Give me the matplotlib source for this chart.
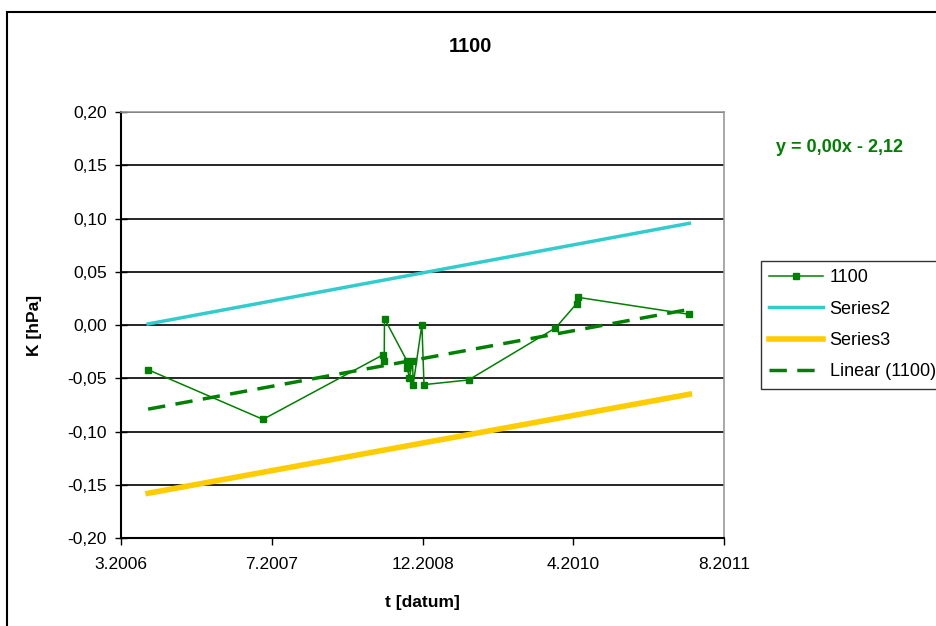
import numpy as np
import matplotlib.pyplot as plt
import matplotlib.dates as mdates
from matplotlib.patches import Rectangle
from matplotlib.ticker import FuncFormatter

plt.rcParams['font.family'] = ['Liberation Sans', 'DejaVu Sans']

# measurements for station 1100
dates = ['2006-06-06', '2007-06-22', '2008-07-24', '2008-07-28', '2008-07-29',
         '2008-10-12', '2008-10-13', '2008-10-19', '2008-10-30', '2008-11-01',
         '2008-11-30', '2008-12-07', '2009-05-04', '2010-02-16', '2010-04-27',
         '2010-05-01', '2011-05-06']
k_1100 = [-0.042, -0.0886, -0.028, -0.0335, 0.006,
          -0.034, -0.040, -0.050, -0.034, -0.056,
          0.0003, -0.056, -0.0516, -0.0028, 0.020,
          0.026, 0.010]

# trend line and upper / lower bands, first and last date
band_dates = ['2006-06-06', '2011-05-06']
trend = [-0.079, 0.0147]
series2 = [0.001, 0.0955]
series3 = [-0.158, -0.065]

equation = 'y = 0,00x - 2,12'

x = mdates.datestr2num(dates)
xb = mdates.datestr2num(band_dates)

fig = plt.figure(figsize=(9.37, 6.26), dpi=100)
ax = fig.add_axes([121/937, 1 - 538/626, 603/937, 426/626])

green = '#008000'
ax.plot(xb, series2, color='#33CCCC', lw=2.5, label='Series2', zorder=3)
ax.plot(xb, series3, color='#FFCC00', lw=4, label='Series3', zorder=3)
ax.plot(x, k_1100, color=green, lw=1.1, marker='s', ms=4.5, label='1100', zorder=5)
ax.plot(xb, trend, color=green, lw=2.5, ls=(0, (5, 3)),
        label='Linear (1100)', zorder=4)

x0 = mdates.datestr2num('2006-03-08')
ax.set_xlim(x0, x0 + 2000)
ax.set_xticks(x0 + np.arange(5) * 500)
ax.xaxis.set_major_formatter(FuncFormatter(
    lambda v, pos: '%d.%d' % (mdates.num2date(v).month, mdates.num2date(v).year)))

ax.set_ylim(-0.2, 0.2)
ax.set_yticks(np.arange(-0.2, 0.201, 0.05))
ax.yaxis.set_major_formatter(FuncFormatter(
    lambda v, pos: ('%.2f' % v).replace('-0.00', '0.00').replace('.', ',')))
ax.yaxis.grid(True, color='black', lw=1.2)
ax.set_axisbelow(True)

for s in ['top', 'right']:
    ax.spines[s].set_color('#999999')
    ax.spines[s].set_linewidth(1.2)
for s in ['left', 'bottom']:
    ax.spines[s].set_linewidth(1.5)

ax.tick_params(axis='y', direction='inout', length=8, width=1, labelsize=12.5, pad=6)
ax.tick_params(axis='x', direction='out', length=5, width=1, labelsize=12.5, pad=9)

ax.set_xlabel('t [datum]', fontsize=12.5, fontweight='bold', labelpad=16)
ax.set_ylabel('K [hPa]', fontsize=12.5, fontweight='bold', labelpad=18)
fig.text(470/937, 1 - 47/626, '1100', fontsize=14.5, fontweight='bold',
         ha='center', va='center')
fig.text(840/937, 1 - 147/626, equation, fontsize=13, fontweight='bold',
         color=green, ha='center', va='center')

handles, labels = ax.get_legend_handles_labels()
order = [2, 0, 1, 3]
leg = fig.legend([handles[i] for i in order], [labels[i] for i in order],
                 loc='upper left', bbox_to_anchor=(761/937, 1 - 261/626),
                 fontsize=13, frameon=True, fancybox=False, handlelength=3.0,
                 labelspacing=0.8, borderpad=0.45, handletextpad=0.35,
                 borderaxespad=0)
leg.get_frame().set_edgecolor('black')
leg.get_frame().set_linewidth(1)

# outer chart border
fig.patches.append(Rectangle((7/937, -0.5), 2, 1.5 - 12/626, transform=fig.transFigure,
                             fill=False, edgecolor='black', lw=1.5))

fig.savefig('out.png', dpi=100)
